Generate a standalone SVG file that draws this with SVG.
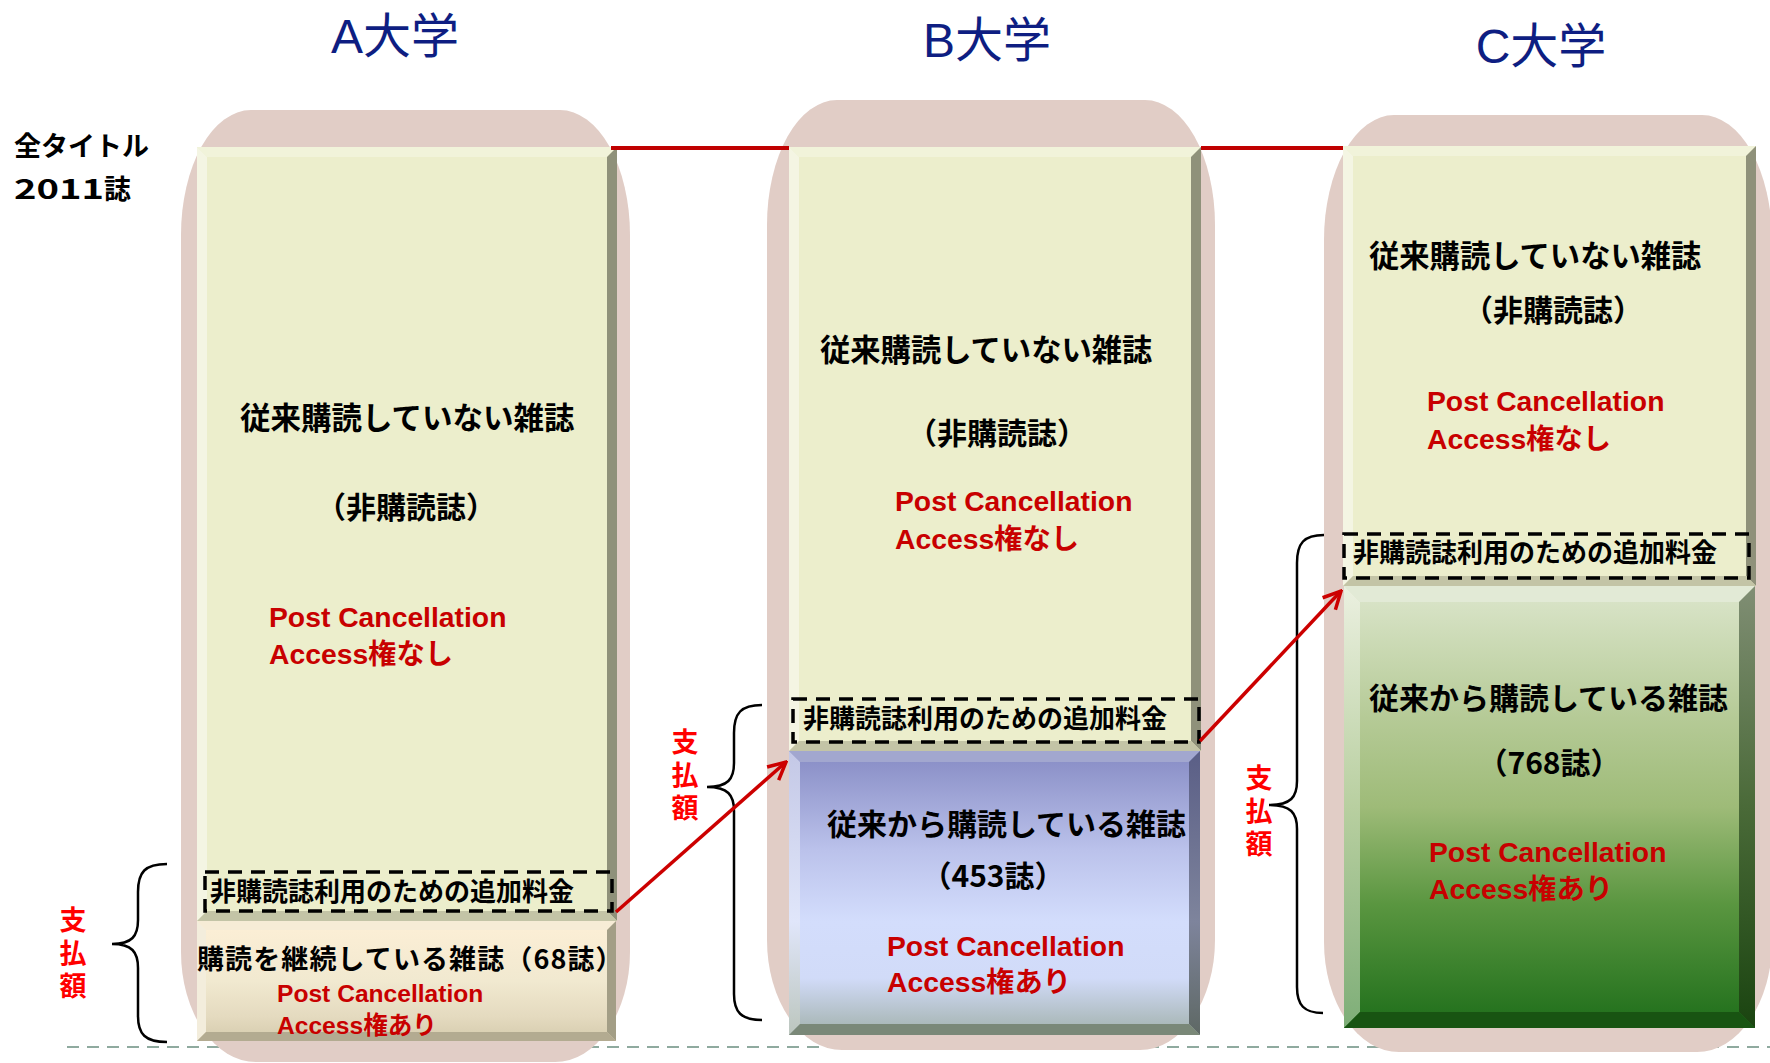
<svg xmlns="http://www.w3.org/2000/svg" width="1770" height="1063" viewBox="0 0 1770 1063">
<defs>
<style>
.pink{fill:#E1CDC6}
.yface{fill:#ECEECC}
.ytop{fill:#F1F3DA}
.yleft{fill:#F4F5E3}
.yright{fill:#8F917A}
.ybot{fill:#C3C4A6}
.dash{fill:none;stroke:#000;stroke-width:3.5;stroke-dasharray:14 9}
.jp{font-family:"Noto Sans CJK JP","Liberation Sans",sans-serif;font-weight:bold;fill:#000}
.red{font-family:"Liberation Sans","Noto Sans CJK JP",sans-serif;font-weight:bold;fill:#C80000}
.title{font-family:"Liberation Sans","Noto Sans CJK JP",sans-serif;fill:#0E1E82;font-size:48px;text-anchor:middle}
.pay{font-family:"Noto Sans CJK JP",sans-serif;font-weight:bold;fill:#FF0000;font-size:27px;writing-mode:vertical-rl;letter-spacing:6px}
.brace{fill:none;stroke:#000;stroke-width:2.5}
.hline{stroke:#C00000;stroke-width:4}
.arrow{stroke:#CC0000;stroke-width:3.5;fill:none}
</style>
<linearGradient id="tanG" x1="0" y1="0" x2="0" y2="1">
<stop offset="0" stop-color="#FDEFD6"/><stop offset="0.5" stop-color="#F1E9D0"/><stop offset="0.8" stop-color="#E4DABF"/><stop offset="1" stop-color="#D5CBAD"/>
</linearGradient>
<linearGradient id="blueG" x1="0" y1="0" x2="0" y2="1">
<stop offset="0" stop-color="#868BC4"/><stop offset="0.35" stop-color="#BBC2EB"/><stop offset="0.6" stop-color="#D3DDFC"/><stop offset="0.8" stop-color="#D1DBF8"/><stop offset="1" stop-color="#A2B1AC"/>
</linearGradient>
<linearGradient id="blueL" x1="0" y1="0" x2="0" y2="1">
<stop offset="0" stop-color="#C4C8E6"/><stop offset="0.6" stop-color="#E0E6FA"/><stop offset="1" stop-color="#BCC6BE"/>
</linearGradient>
<linearGradient id="blueR" x1="0" y1="0" x2="0" y2="1">
<stop offset="0" stop-color="#5A5E86"/><stop offset="0.6" stop-color="#7E849C"/><stop offset="1" stop-color="#5E6864"/>
</linearGradient>
<linearGradient id="greenG" x1="0" y1="0" x2="0" y2="1">
<stop offset="0" stop-color="#DCE6CC"/><stop offset="0.3" stop-color="#B5CA96"/><stop offset="0.5" stop-color="#9EBB78"/><stop offset="0.72" stop-color="#5A9640"/><stop offset="1" stop-color="#1E6E1A"/>
</linearGradient>
<linearGradient id="greenL" x1="0" y1="0" x2="0" y2="1">
<stop offset="0" stop-color="#EBF0E0"/><stop offset="0.5" stop-color="#B8CFA0"/><stop offset="1" stop-color="#7EAE78"/>
</linearGradient>
<linearGradient id="greenR" x1="0" y1="0" x2="0" y2="1">
<stop offset="0" stop-color="#808E74"/><stop offset="0.5" stop-color="#4A6A38"/><stop offset="1" stop-color="#1A4410"/>
</linearGradient>
<marker id="ah" viewBox="0 0 12 12" refX="11" refY="6" markerWidth="6" markerHeight="6" markerUnits="strokeWidth" orient="auto">
<path d="M1,1 L11,6 L1,11" fill="none" stroke="#CC0000" stroke-width="2"/>
</marker>
</defs>

<rect width="1770" height="1063" fill="#FFFFFF"/>

<line x1="67" y1="1047" x2="1770" y2="1047" stroke="#8FAA9F" stroke-width="2" stroke-dasharray="12 8"/>

<g id="titles">
<text class="title" x="395" y="53">A大学</text>
<text class="title" x="987" y="57">B大学</text>
<text class="title" x="1541" y="63">C大学</text>
</g>

<g id="total-label" class="jp" font-size="27">
<text x="14" y="156">全タイトル</text>
<text x="14" y="199"><tspan textLength="90" lengthAdjust="spacingAndGlyphs">2011</tspan><tspan>誌</tspan></text>
</g>

<g id="univ-a">
<path class="pink" d="M251,110 H560 A70,125 0 0 1 630,235 V952 A75,110 0 0 1 555,1062 H256 A75,110 0 0 1 181,952 V235 A70,125 0 0 1 251,110 Z"/>
<rect class="yface" x="197" y="147" width="420" height="774"/>
<polygon class="ytop" points="197,147 617,147 607,157 207,157"/>
<polygon class="yleft" points="197,147 207,157 207,911 197,921"/>
<polygon class="yright" points="617,147 617,921 607,911 607,157"/>
<polygon class="ybot" points="197,921 207,911 607,911 617,921"/>
<rect x="197" y="921" width="419" height="120" fill="url(#tanG)"/>
<polygon fill="#F6ECD6" points="197,921 616,921 607,930 206,930"/>
<polygon fill="#F3EDDC" points="197,921 206,930 206,1032 197,1041"/>
<polygon fill="#A39E86" points="616,921 616,1041 607,1032 607,930"/>
<polygon fill="#B3AB91" points="197,1041 206,1032 607,1032 616,1041"/>
<rect class="dash" x="205" y="872" width="407" height="39"/>
<text class="jp" x="240" y="429" font-size="30.5">従来購読していない雑誌</text>
<text class="jp" x="406" y="518" font-size="30" text-anchor="middle">（非購読誌）</text>
<text class="red" x="269" y="627" font-size="28.3">Post Cancellation</text>
<text class="red" x="269" y="664" font-size="28.3">Access権なし</text>
<text class="jp" x="210" y="901" font-size="26">非購読誌利用のための追加料金</text>
<text class="jp" x="197" y="969" font-size="27" letter-spacing="1.1">購読を継続している雑誌（68誌）</text>
<text class="red" x="277" y="1002" font-size="24.6">Post Cancellation</text>
<text class="red" x="277" y="1034" font-size="24.6">Access権あり</text>
</g>

<g id="univ-b">
<path class="pink" d="M837,100 H1145 A70,125 0 0 1 1215,225 V940 A75,110 0 0 1 1140,1050 H842 A75,110 0 0 1 767,940 V225 A70,125 0 0 1 837,100 Z"/>
<rect class="yface" x="789" y="147" width="412" height="604"/>
<polygon class="ytop" points="789,147 1201,147 1191,157 799,157"/>
<polygon class="yleft" points="789,147 799,157 799,741 789,751"/>
<polygon class="yright" points="1201,147 1201,751 1191,741 1191,157"/>
<polygon class="ybot" points="789,751 799,741 1191,741 1201,751"/>
<rect x="789" y="751" width="411" height="284" fill="url(#blueG)"/>
<polygon fill="#A2A7CF" points="789,751 1200,751 1189,762 800,762"/>
<polygon fill="url(#blueL)" points="789,751 800,762 800,1024 789,1035"/>
<polygon fill="url(#blueR)" points="1200,751 1200,1035 1189,1024 1189,762"/>
<polygon fill="#7A8878" points="789,1035 800,1024 1189,1024 1200,1035"/>
<rect class="dash" x="793" y="699" width="406" height="43"/>
<text class="jp" x="820" y="361" font-size="30.3">従来購読していない雑誌</text>
<text class="jp" x="997" y="444" font-size="30" text-anchor="middle">（非購読誌）</text>
<text class="red" x="895" y="511" font-size="28.3">Post Cancellation</text>
<text class="red" x="895" y="549" font-size="28.3">Access権なし</text>
<text class="jp" x="803" y="728" font-size="26">非購読誌利用のための追加料金</text>
<text class="jp" x="827" y="835" font-size="30">従来から購読している雑誌</text>
<text class="jp" x="993" y="887" font-size="30" text-anchor="middle">（453誌）</text>
<text class="red" x="887" y="956" font-size="28.3">Post Cancellation</text>
<text class="red" x="887" y="992" font-size="28.3">Access権あり</text>
</g>

<g id="univ-c">
<path class="pink" d="M1394,115 H1702 A70,125 0 0 1 1772,240 V942 A75,110 0 0 1 1697,1052 H1399 A75,110 0 0 1 1324,942 V240 A70,125 0 0 1 1394,115 Z"/>
<rect class="yface" x="1343" y="146" width="413" height="440"/>
<polygon class="ytop" points="1343,146 1756,146 1746,156 1353,156"/>
<polygon class="yleft" points="1343,146 1353,156 1353,576 1343,586"/>
<polygon class="yright" points="1756,146 1756,586 1746,576 1746,156"/>
<polygon class="ybot" points="1343,586 1353,576 1746,576 1756,586"/>
<rect x="1344" y="586" width="411" height="442" fill="url(#greenG)"/>
<polygon fill="#E2EAD6" points="1344,586 1755,586 1739,602 1360,602"/>
<polygon fill="url(#greenL)" points="1344,586 1360,602 1360,1012 1344,1028"/>
<polygon fill="url(#greenR)" points="1755,586 1755,1028 1739,1012 1739,602"/>
<polygon fill="#185412" points="1344,1028 1360,1012 1739,1012 1755,1028"/>
<rect class="dash" x="1344" y="534" width="405" height="44"/>
<text class="jp" x="1369" y="267" font-size="30.3">従来購読していない雑誌</text>
<text class="jp" x="1553" y="321" font-size="30" text-anchor="middle">（非購読誌）</text>
<text class="red" x="1427" y="411" font-size="28.3">Post Cancellation</text>
<text class="red" x="1427" y="449" font-size="28.3">Access権なし</text>
<text class="jp" x="1353" y="562" font-size="26">非購読誌利用のための追加料金</text>
<text class="jp" x="1369" y="709" font-size="30">従来から購読している雑誌</text>
<text class="jp" x="1549" y="774" font-size="30" text-anchor="middle">（768誌）</text>
<text class="red" x="1429" y="862" font-size="28.3">Post Cancellation</text>
<text class="red" x="1429" y="899" font-size="28.3">Access権あり</text>
</g>

<g id="pay-a">
<path class="brace" d="M167,864 C145,864 138,872 138,892 L138,920 C138,936 132,944 112,944 C132,944 138,952 138,968 L138,1016 C138,1034 145,1042 167,1042"/>
<text class="pay" x="73" y="906">支払額</text>
</g>

<g id="pay-b">
<path class="brace" d="M762,705 C741,705 734,713 734,733 L734,763 C734,779 728,787 707,787 C728,787 734,795 734,811 L734,994 C734,1012 741,1020 762,1020"/>
<text class="pay" x="685" y="728">支払額</text>
</g>

<g id="pay-c">
<path class="brace" d="M1324,535 C1304,535 1297,543 1297,563 L1297,781 C1297,797 1291,805 1269,805 C1291,805 1297,813 1297,829 L1297,987 C1297,1005 1304,1013 1323,1013"/>
<text class="pay" x="1259" y="764">支払額</text>
</g>

<g id="connectors">
<line class="hline" x1="611" y1="148" x2="789" y2="148"/>
<line class="hline" x1="1201" y1="148" x2="1343" y2="148"/>
<line class="arrow" x1="616" y1="912" x2="786" y2="762" marker-end="url(#ah)"/>
<line class="arrow" x1="1200" y1="741" x2="1341" y2="591" marker-end="url(#ah)"/>
</g>
</svg>
